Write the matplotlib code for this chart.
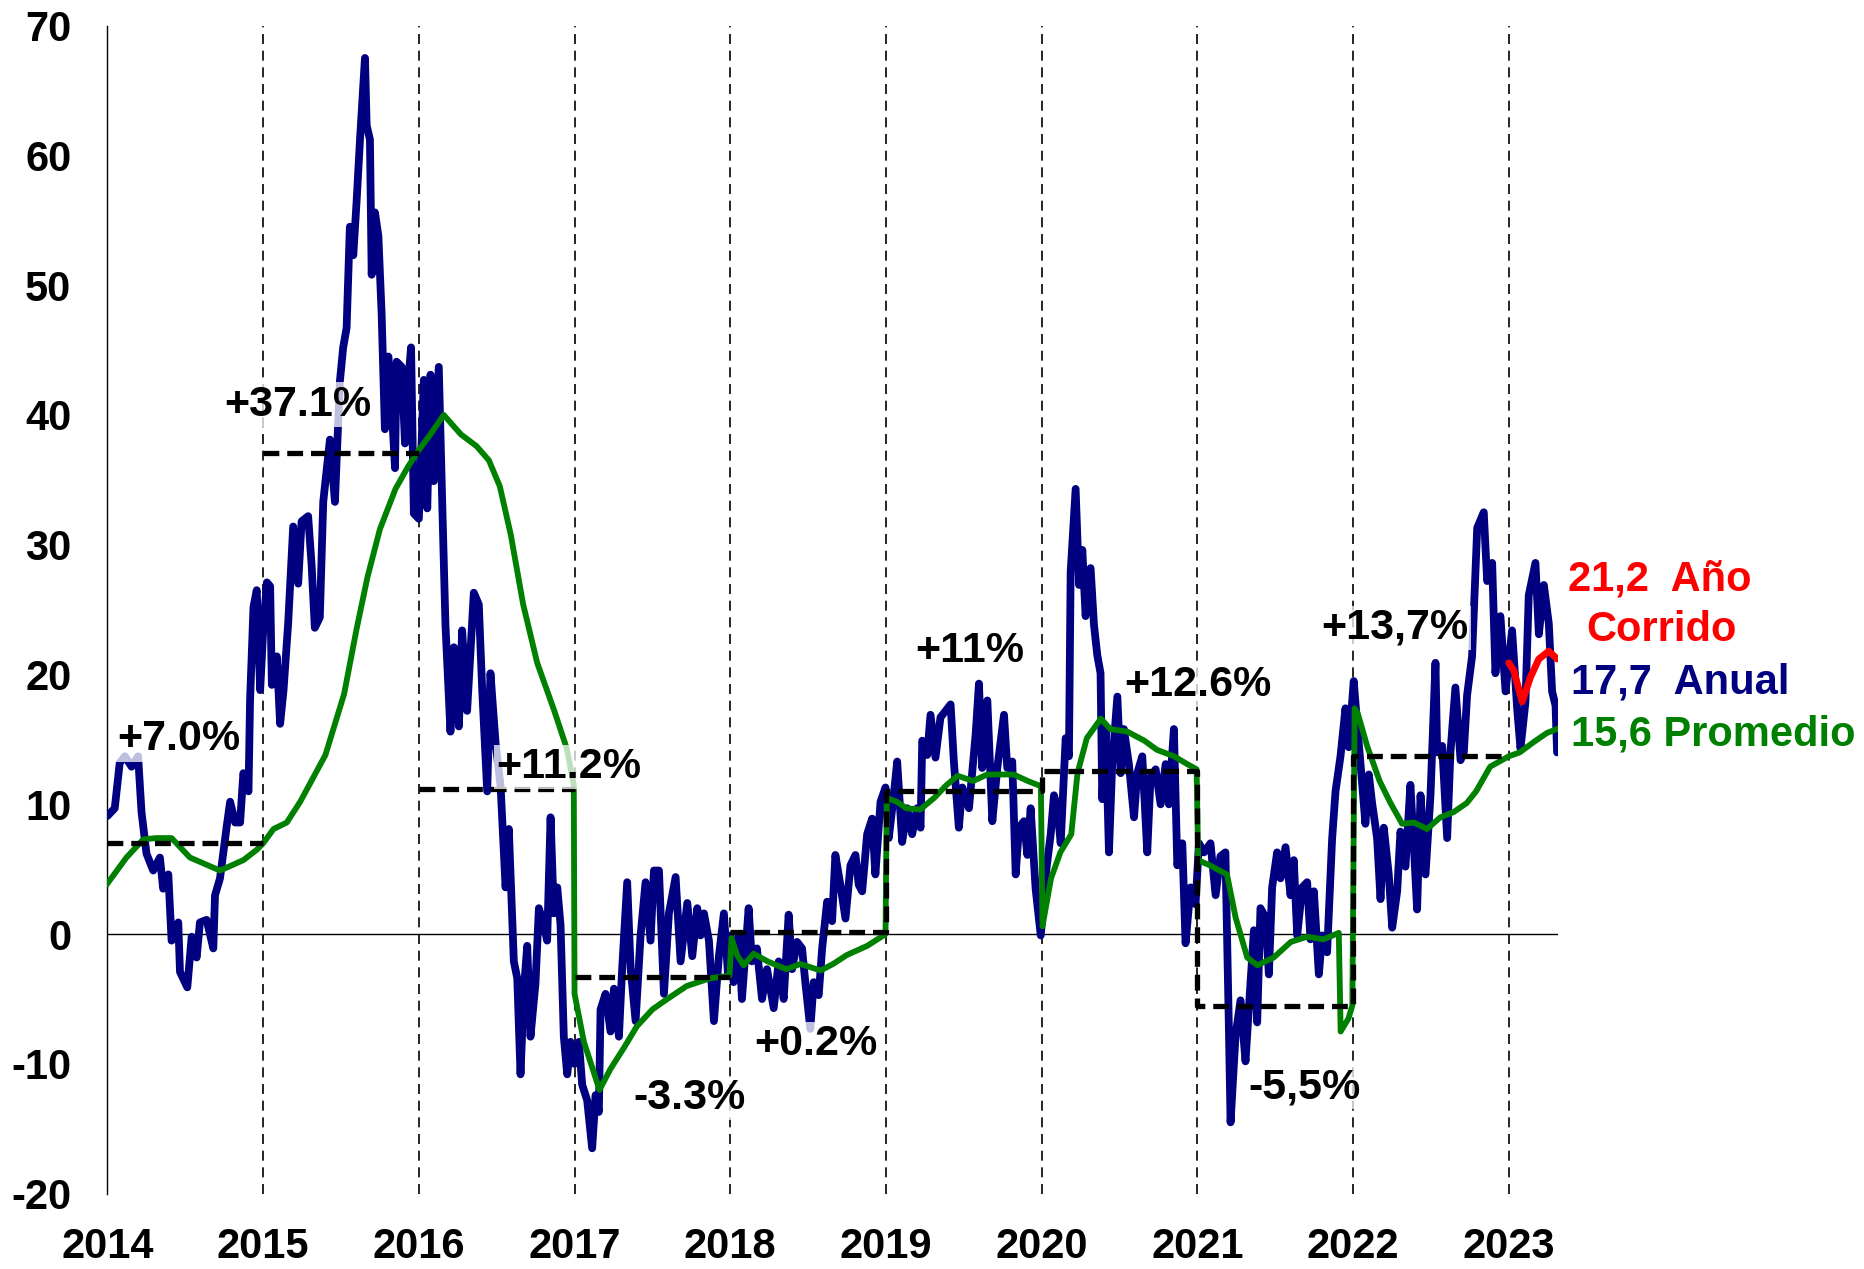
import matplotlib
matplotlib.use("Agg")
import matplotlib.pyplot as plt

plt.rcParams['font.family'] = ['Liberation Sans', 'DejaVu Sans']
plt.rcParams['font.weight'] = 'bold'

# ---------------- data ----------------
blue_years = [
    2014.000, 2014.047, 2014.079, 2014.112, 2014.155, 2014.197, 2014.219, 2014.251, 2014.294, 2014.337,
    2014.358, 2014.391, 2014.412, 2014.455, 2014.466, 2014.513, 2014.541, 2014.573, 2014.594, 2014.637,
    2014.680, 2014.691, 2014.723, 2014.766, 2014.788, 2014.820, 2014.852, 2014.873, 2014.906, 2014.916,
    2014.938, 2014.959, 2014.981, 2015.000, 2015.024, 2015.045, 2015.056, 2015.088, 2015.109, 2015.131,
    2015.161, 2015.193, 2015.225, 2015.247, 2015.289, 2015.311, 2015.332, 2015.364, 2015.386, 2015.429,
    2015.461, 2015.493, 2015.514, 2015.536, 2015.557, 2015.579, 2015.600, 2015.622, 2015.654, 2015.665,
    2015.686, 2015.697, 2015.718, 2015.740, 2015.761, 2015.782, 2015.804, 2015.825, 2015.847, 2015.857,
    2015.890, 2015.911, 2015.932, 2015.950, 2015.968, 2016.000, 2016.032, 2016.054, 2016.075, 2016.096,
    2016.128, 2016.150, 2016.171, 2016.203, 2016.225, 2016.257, 2016.278, 2016.310, 2016.353, 2016.385,
    2016.407, 2016.439, 2016.460, 2016.493, 2016.525, 2016.557, 2016.578, 2016.610, 2016.632, 2016.653,
    2016.675, 2016.696, 2016.717, 2016.749, 2016.771, 2016.803, 2016.824, 2016.846, 2016.867, 2016.889,
    2016.910, 2016.931, 2016.953, 2016.974, 2017.000, 2017.028, 2017.049, 2017.081, 2017.113, 2017.135,
    2017.156, 2017.167, 2017.199, 2017.231, 2017.253, 2017.285, 2017.306, 2017.338, 2017.360, 2017.392,
    2017.424, 2017.456, 2017.488, 2017.510, 2017.542, 2017.574, 2017.606, 2017.649, 2017.681, 2017.724,
    2017.756, 2017.788, 2017.809, 2017.831, 2017.863, 2017.895, 2017.927, 2017.959, 2017.985, 2018.000,
    2018.021, 2018.054, 2018.075, 2018.118, 2018.139, 2018.171, 2018.204, 2018.236, 2018.279, 2018.311,
    2018.343, 2018.375, 2018.397, 2018.429, 2018.461, 2018.482, 2018.514, 2018.536, 2018.568, 2018.590,
    2018.622, 2018.654, 2018.675, 2018.707, 2018.740, 2018.772, 2018.804, 2018.825, 2018.847, 2018.879,
    2018.911, 2018.932, 2018.965, 2018.997, 2019.018, 2019.050, 2019.072, 2019.104, 2019.136, 2019.168,
    2019.200, 2019.222, 2019.233, 2019.265, 2019.286, 2019.318, 2019.350, 2019.383, 2019.415, 2019.436,
    2019.468, 2019.490, 2019.533, 2019.576, 2019.597, 2019.618, 2019.651, 2019.683, 2019.715, 2019.758,
    2019.779, 2019.811, 2019.833, 2019.854, 2019.886, 2019.908, 2019.929, 2019.961, 2019.994, 2020.026,
    2020.058, 2020.079, 2020.101, 2020.122, 2020.154, 2020.175, 2020.186, 2020.218, 2020.240, 2020.261,
    2020.282, 2020.314, 2020.336, 2020.357, 2020.378, 2020.389, 2020.411, 2020.432, 2020.453, 2020.486,
    2020.507, 2020.528, 2020.560, 2020.593, 2020.614, 2020.646, 2020.678, 2020.699, 2020.732, 2020.764,
    2020.796, 2020.817, 2020.849, 2020.871, 2020.903, 2020.924, 2020.956, 2020.988, 2021.010, 2021.042,
    2021.084, 2021.117, 2021.148, 2021.180, 2021.202, 2021.213, 2021.245, 2021.277, 2021.309, 2021.330,
    2021.363, 2021.384, 2021.405, 2021.437, 2021.459, 2021.480, 2021.512, 2021.534, 2021.566, 2021.598,
    2021.619, 2021.641, 2021.673, 2021.705, 2021.726, 2021.748, 2021.780, 2021.801, 2021.833, 2021.865,
    2021.887, 2021.919, 2021.951, 2021.972, 2022.004, 2022.026, 2022.047, 2022.079, 2022.101, 2022.122,
    2022.154, 2022.176, 2022.197, 2022.229, 2022.251, 2022.283, 2022.304, 2022.336, 2022.368, 2022.390,
    2022.411, 2022.433, 2022.465, 2022.497, 2022.529, 2022.540, 2022.572, 2022.604, 2022.625, 2022.657,
    2022.690, 2022.711, 2022.732, 2022.764, 2022.797, 2022.839, 2022.861, 2022.893, 2022.914, 2022.946,
    2022.979, 2023.021, 2023.054, 2023.075, 2023.107, 2023.128, 2023.171, 2023.193, 2023.225, 2023.257,
    2023.278, 2023.300, 2023.310,
]
blue_vals = [
    9.1, 9.7, 13.2, 13.7, 12.9, 13.7, 9.4, 6.2, 4.9, 5.9,
    3.5, 4.6, -0.5, 0.9, -2.9, -4.1, -0.2, -1.8, 0.9, 1.1,
    -1.1, 3.0, 4.3, 8.3, 10.2, 8.6, 8.6, 12.4, 11.0, 18.0,
    25.2, 26.5, 18.8, 23.3, 27.1, 26.8, 19.2, 21.4, 16.2, 18.8,
    24.0, 31.4, 27.0, 31.8, 32.2, 28.5, 23.6, 24.4, 33.3, 38.1,
    33.3, 42.6, 45.2, 46.7, 54.5, 52.3, 56.4, 61.2, 67.5, 62.3,
    61.2, 50.8, 55.6, 53.8, 47.8, 38.9, 44.5, 40.7, 35.9, 44.1,
    43.7, 37.8, 42.6, 45.2, 32.4, 32.0, 42.7, 32.8, 43.1, 34.9,
    43.7, 33.3, 23.8, 15.6, 22.1, 16.0, 23.4, 17.2, 26.3, 25.4,
    18.8, 11.0, 20.1, 14.7, 11.4, 3.6, 8.1, -2.1, -3.4, -10.8,
    -4.2, -0.9, -7.9, -3.8, 2.0, 0.7, -0.5, 9.0, 1.6, 3.6,
    0.7, -7.9, -10.8, -8.3, -10.0, -8.3, -11.6, -12.8, -16.5, -12.4,
    -13.7, -5.8, -4.6, -7.5, -4.2, -7.9, -2.6, 4.0, -2.6, -6.7,
    -0.1, 4.0, -0.5, 4.9, 4.9, -4.6, 1.6, 4.4, -2.1, 2.4,
    -1.7, 2.0, -0.1, 1.6, -0.5, -6.7, -1.7, 1.6, -3.0, -0.1,
    -3.7, -0.1, -5.0, 2.0, -2.1, -1.1, -5.0, -2.7, -5.7, -2.1,
    -5.0, 1.5, -2.7, -0.6, -1.1, -3.7, -7.3, -3.7, -4.7, -1.1,
    2.5, 1.0, 6.1, 3.8, 1.2, 5.3, 6.1, 3.8, 3.3, 7.7,
    8.9, 4.6, 10.2, 11.3, 7.4, 10.7, 13.3, 7.1, 9.7, 7.7,
    9.7, 8.2, 14.9, 13.8, 16.9, 13.6, 16.7, 17.2, 17.7, 13.3,
    8.2, 11.3, 9.7, 15.4, 19.3, 12.8, 18.0, 8.7, 12.8, 16.9,
    12.8, 13.3, 4.6, 8.2, 8.7, 6.1, 9.7, 3.5, -0.1, 4.6,
    7.7, 10.7, 9.7, 7.0, 15.1, 13.7, 27.9, 34.3, 26.9, 29.6,
    24.5, 28.2, 23.8, 21.5, 20.1, 10.4, 15.8, 6.3, 13.1, 18.3,
    12.4, 15.8, 13.1, 9.0, 12.4, 13.7, 6.3, 12.1, 12.7, 10.0,
    13.1, 10.0, 15.8, 5.3, 7.0, -0.7, 3.6, 2.3, 7.0, 6.3,
    7.0, 3.0, 6.0, 6.3, -7.1, -14.5, -7.8, -5.1, -9.8, -5.8,
    0.3, -6.8, 2.0, 1.3, -3.1, 3.6, 6.3, 4.3, 6.7, 3.0,
    5.7, -0.1, 3.6, 4.0, -0.4, 3.3, -3.1, -0.1, -1.4, 7.3,
    11.0, 13.7, 17.4, 14.4, 19.5, 16.2, 13.2, 8.5, 12.3, 10.1,
    7.4, 2.7, 8.2, 4.6, 0.5, 3.3, 7.9, 5.2, 11.5, 6.8,
    1.9, 10.7, 4.6, 10.7, 20.9, 14.0, 14.5, 7.4, 14.0, 19.0,
    13.4, 14.0, 18.4, 21.4, 31.3, 32.5, 27.2, 28.6, 20.1, 24.5,
    18.7, 23.4, 17.3, 14.3, 17.9, 26.1, 28.6, 23.1, 26.9, 23.9,
    18.7, 17.6, 14.0,
]

green_years = [
    2014.000, 2014.122, 2014.230, 2014.315, 2014.412, 2014.530, 2014.723, 2014.873, 2014.959, 2015.000,
    2015.067, 2015.152, 2015.238, 2015.400, 2015.520, 2015.600, 2015.670, 2015.750, 2015.850, 2015.930,
    2016.000, 2016.080, 2016.160, 2016.270, 2016.370, 2016.450, 2016.520, 2016.590, 2016.670, 2016.760,
    2016.870, 2016.950, 2016.995, 2017.000, 2017.060, 2017.160, 2017.230, 2017.320, 2017.400, 2017.500,
    2017.595, 2017.720, 2017.870, 2017.995, 2018.008, 2018.043, 2018.086, 2018.150, 2018.240, 2018.360,
    2018.450, 2018.580, 2018.660, 2018.750, 2018.880, 2018.997, 2019.005, 2019.070, 2019.130, 2019.220,
    2019.310, 2019.390, 2019.460, 2019.560, 2019.650, 2019.760, 2019.820, 2019.910, 2019.995, 2020.005,
    2020.060, 2020.120, 2020.190, 2020.230, 2020.290, 2020.380, 2020.440, 2020.550, 2020.660, 2020.740,
    2020.850, 2020.935, 2020.995, 2021.005, 2021.080, 2021.190, 2021.245, 2021.320, 2021.385, 2021.490,
    2021.600, 2021.705, 2021.810, 2021.908, 2021.920, 2021.970, 2021.995, 2022.010, 2022.030, 2022.090,
    2022.170, 2022.240, 2022.315, 2022.390, 2022.475, 2022.560, 2022.645, 2022.730, 2022.790, 2022.880,
    2023.000, 2023.070, 2023.160, 2023.245, 2023.310,
]
green_vals = [
    3.9, 5.9, 7.3, 7.4, 7.4, 5.9, 4.9, 5.7, 6.5, 7.0,
    8.1, 8.6, 10.2, 13.8, 18.5, 23.5, 27.5, 31.2, 34.3, 36.0,
    37.3, 38.6, 40.0, 38.5, 37.6, 36.5, 34.5, 30.8, 25.4, 20.9,
    17.2, 14.3, 11.5, -4.6, -8.3, -12.0, -10.4, -8.7, -7.1, -5.8,
    -5.0, -4.0, -3.4, -3.2, -0.3, -1.6, -2.4, -1.5, -2.1, -2.7,
    -2.3, -2.8, -2.3, -1.6, -0.9, 0.0, 10.5, 10.2, 9.7, 9.6,
    10.5, 11.5, 12.2, 11.8, 12.3, 12.3, 12.3, 11.8, 11.4, 0.6,
    4.3, 6.3, 7.7, 12.4, 15.1, 16.6, 15.8, 15.6, 14.9, 14.2,
    13.7, 13.1, 12.7, 5.7, 5.3, 4.6, 1.3, -1.8, -2.4, -1.8,
    -0.6, -0.2, -0.4, 0.1, -7.5, -6.5, -5.5, 17.4, 17.0, 14.5,
    11.8, 10.1, 8.5, 8.6, 8.1, 9.0, 9.4, 10.1, 11.0, 12.9,
    13.7, 14.0, 14.8, 15.5, 15.8,
]

red_years = [2023.000, 2023.032, 2023.086, 2023.139, 2023.193, 2023.257, 2023.310]
red_vals = [20.9, 20.3, 17.9, 19.8, 21.2, 21.8, 21.2]

avg_years = [2014, 2015, 2016, 2017, 2018, 2019, 2020, 2021, 2022]
avg_vals = [7.0, 37.1, 11.2, -3.3, 0.2, 11.0, 12.6, -5.5, 13.7]
avg_labels = ["+7.0%", "+37.1%", "+11.2%", "-3.3%", "+0.2%", "+11%", "+12.6%", "-5,5%", "+13,7%"]
label_x = [2014.46, 2015.22, 2016.96, 2017.74, 2018.55, 2019.54, 2021.00, 2021.69, 2022.27]
label_y = [15.0, 40.8, 12.9, -12.6, -8.5, 21.8, 19.2, -11.8, 23.6]

year_ticks = [2014, 2015, 2016, 2017, 2018, 2019, 2020, 2021, 2022, 2023]
y_ticks = [-20, -10, 0, 10, 20, 30, 40, 50, 60, 70]

side_texts = ["21,2  Año", "Corrido", "17,7  Anual", "15,6 Promedio"]
side_colors = ["#FF0000", "#FF0000", "#000080", "#008000"]
side_x = [2023.38, 2023.50, 2023.40, 2023.40]
side_y = [27.3, 23.4, 19.4, 15.4]

# ---------------- figure ----------------
fig = plt.figure(figsize=(18.65, 12.69), dpi=100)
ax = fig.add_axes([0.0576, 0.0593, 0.7778, 0.9206])
ax.set_xlim(2014, 2023.316)
ax.set_ylim(-20, 70)

for s in ["top", "right", "bottom"]:
    ax.spines[s].set_visible(False)
ax.spines["left"].set_linewidth(1.0)
ax.spines["left"].set_color("black")

# vertical dashed year lines
for yr in year_ticks[1:]:
    ax.axvline(yr, color="black", lw=1.2, ls=(0, (6, 4)), zorder=1)
ax.axhline(0, color="black", lw=1.0, zorder=1)

ax.plot(blue_years, blue_vals, color="#000080", lw=5.6, solid_joinstyle="round",
        solid_capstyle="round", zorder=3)
ax.plot(green_years, green_vals, color="#008000", lw=4.2, solid_joinstyle="round", zorder=4)

# yearly average dashed lines
dash = (0, (3.0, 1.5))
for i in range(4):
    ax.plot([avg_years[i], avg_years[i] + 1], [avg_vals[i], avg_vals[i]],
            color="black", lw=3.8, ls=dash, zorder=5)
step_x = []
step_y = []
for i in range(4, len(avg_years)):
    step_x += [avg_years[i], avg_years[i] + 1]
    step_y += [avg_vals[i], avg_vals[i]]
ax.plot(step_x, step_y, color="black", lw=3.8, ls=dash, zorder=5)

ax.plot(red_years, red_vals, color="#FF0000", lw=5.0, solid_capstyle="round", zorder=6)

for t, x, y in zip(avg_labels, label_x, label_y):
    ax.text(x, y, t, fontsize=31, fontweight="bold", ha="center", va="center", color="black",
            zorder=7, bbox=dict(facecolor="white", edgecolor="none", alpha=0.75, pad=1.5))

for t, c, x, y in zip(side_texts, side_colors, side_x, side_y):
    ax.text(x, y, t, fontsize=30, fontweight="bold", ha="left", va="center", color=c,
            clip_on=False, zorder=7)

ax.set_xticks(year_ticks)
ax.set_xticklabels([str(y) for y in year_ticks])
ax.set_yticks(y_ticks)
ax.set_yticklabels([str(v) for v in y_ticks])
ax.tick_params(axis="both", length=0, labelsize=30)
ax.tick_params(axis="x", pad=24)
ax.tick_params(axis="y", pad=26)
for lab in ax.get_xticklabels() + ax.get_yticklabels():
    lab.set_fontweight("bold")

fig.savefig("out.png", dpi=100, facecolor="white")
